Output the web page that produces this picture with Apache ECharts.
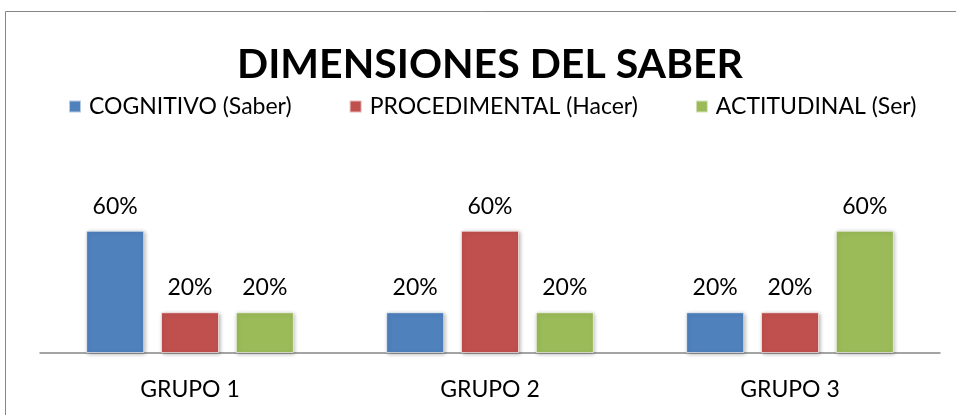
<!DOCTYPE html>
<html>
<head>
<meta charset="utf-8">
<script src="https://cdn.jsdelivr.net/npm/echarts@6/dist/echarts.min.js"></script>
<style>
  html, body { margin: 0; padding: 0; background: #fff; }
  #chart { width: 956px; height: 415px; }
</style>
</head>
<body>
<div id="chart"></div>
<script>
const categories = ['GRUPO 1', 'GRUPO 2', 'GRUPO 3'];
const seriesNames = ['COGNITIVO (Saber)', 'PROCEDIMENTAL (Hacer)', 'ACTITUDINAL (Ser)'];
const cognitivo = [0.6, 0.2, 0.2];
const procedimental = [0.2, 0.6, 0.2];
const actitudinal = [0.2, 0.2, 0.6];
const colors = ['#4F81BD', '#C0504D', '#9BBB59'];

const font = 'Lato, "Open Sans", sans-serif';

const makeSeries = (name, data, color) => ({
    name: name,
    type: 'bar',
    data: data,
    barWidth: 58,
    barGap: '29%',
    itemStyle: {
        color: color,
        borderColor: 'rgba(255,255,255,0.6)',
        borderWidth: 1,
        shadowBlur: 4,
        shadowColor: 'rgba(0,0,0,0.3)',
        shadowOffsetX: 1,
        shadowOffsetY: 1
    },
    label: {
        show: true,
        position: 'top',
        distance: 13,
        color: '#000',
        fontFamily: font,
        fontSize: 23,
        formatter: p => Math.round(p.value * 100) + '%'
    }
});

echarts.init(document.querySelector('#chart')).setOption({
    animation: false,
    title: {
        text: 'DIMENSIONES DEL SABER',
        left: 232,
        top: 39,
        textStyle: {
            fontFamily: font,
            fontWeight: 'bold',
            fontSize: 41,
            color: '#000'
        }
    },
    legend: {
        top: 90,
        left: 63,
        itemWidth: 12,
        itemHeight: 12,
        itemGap: 57,
        icon: 'rect',
        textStyle: {
            fontFamily: font,
            fontSize: 23,
            color: '#000',
            padding: [0, 0, 0, 3]
        },
        data: seriesNames
    },
    graphic: [{
        type: 'rect',
        shape: { x: 5.5, y: 11.5, width: 970, height: 420 },
        style: { fill: 'none', stroke: '#868686', lineWidth: 1 },
        silent: true
    }],
    grid: {
        left: 40,
        right: 16,
        top: 190,
        bottom: 62
    },
    xAxis: {
        type: 'category',
        data: categories,
        axisTick: { show: false },
        axisLine: { lineStyle: { color: '#868686', width: 1.5 } },
        axisLabel: {
            margin: 25,
            color: '#000',
            fontFamily: font,
            fontSize: 23
        }
    },
    yAxis: {
        type: 'value',
        min: 0,
        max: 0.8,
        show: false,
        splitLine: { show: false }
    },
    series: [
        makeSeries(seriesNames[0], cognitivo, colors[0]),
        makeSeries(seriesNames[1], procedimental, colors[1]),
        makeSeries(seriesNames[2], actitudinal, colors[2])
    ]
});
</script>
</body>
</html>
